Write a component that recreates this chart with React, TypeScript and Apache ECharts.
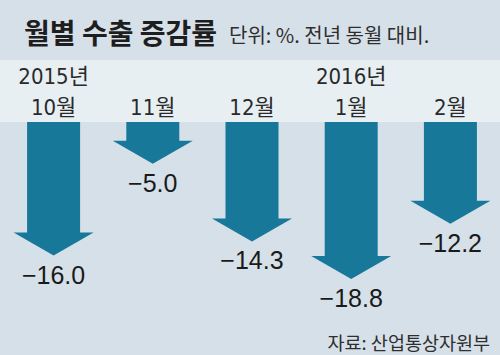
import React, { useEffect, useRef } from "react";
import * as echarts from "echarts";

const months = ["10월", "11월", "12월", "1월", "2월"];
const years = ["2015년", "", "", "2016년", ""];
const values = [-16.0, -5.0, -14.3, -18.8, -12.2];

const titleText = "월별 수출 증감률";
const unitText = "단위: %. 전년 동월 대비.";
const sourceText = "자료: 산업통상자원부";

const ARROW = "#17789a";
const KR = '"Noto Sans CJK KR", sans-serif';
const NUM = '"Liberation Sans", Arial, sans-serif';
const NARROW = '"Liberation Sans Narrow", "DejaVu Sans Condensed", "Noto Sans CJK KR", sans-serif';

const fmt = (v: number) => (v < 0 ? "\u2212" : "") + Math.abs(v).toFixed(1);

export default function App() {
  const ref = useRef<HTMLDivElement>(null);
  useEffect(() => {
    if (!ref.current) return;
    const chart = echarts.init(ref.current, undefined, { renderer: "svg" });
    chart.setOption({
      animation: false,
      backgroundColor: "#d6e0e8",
      grid: { left: 4, width: 498, top: 122, height: 167 },
      xAxis: {
        type: "category",
        data: months,
        position: "top",
        axisLine: { show: false },
        axisTick: { show: false },
        splitLine: { show: false },
        axisLabel: {
          margin: -1,
          fontSize: 22,
          lineHeight: 31,
          color: "#2a2a2a",
          fontFamily: NARROW,
          formatter: (val: string, idx: number) =>
            years[idx] ? years[idx] + "\n" + val : val,
        },
      },
      yAxis: { type: "value", min: -20, max: 0, show: false },
      graphic: [
        {
          type: "rect",
          z: -10,
          shape: { x: 0, y: 60, width: 500, height: 62 },
          style: { fill: "#e8eff3" },
        },
        {
          type: "text",
          x: 24,
          y: 32,
          style: {
            text: titleText,
            fill: "#1e1e1e",
            font: `bold 28px ${KR}`,
            verticalAlign: "middle",
          },
        },
        {
          type: "text",
          x: 229,
          y: 34,
          style: {
            text: unitText,
            fill: "#2e2e2e",
            font: `20px ${KR}`,
            verticalAlign: "middle",
          },
        },
        {
          type: "text",
          x: 490,
          y: 342,
          style: {
            text: sourceText,
            fill: "#2e2e2e",
            font: `18.5px ${KR}`,
            align: "right",
            verticalAlign: "middle",
          },
        },
      ],
      series: [
        {
          type: "custom",
          data: values.map((v, i) => [i, v]),
          renderItem: (params: any, api: any) => {
            const idx = api.value(0);
            const v = api.value(1);
            const base = api.coord([idx, 0]);
            const tip = api.coord([idx, v]);
            const cx = base[0];
            const sh = 26.5;
            const hh = 40;
            const headH = 23;
            const y0 = base[1];
            const yt = tip[1];
            const yh = yt - headH;
            return {
              type: "group",
              children: [
                {
                  type: "polygon",
                  shape: {
                    points: [
                      [cx - sh, y0],
                      [cx + sh, y0],
                      [cx + sh, yh],
                      [cx + hh, yh],
                      [cx, yt],
                      [cx - hh, yh],
                      [cx - sh, yh],
                    ],
                  },
                  style: { fill: ARROW },
                },
                {
                  type: "text",
                  style: {
                    text: fmt(v),
                    x: cx,
                    y: yt + 19,
                    align: "center",
                    verticalAlign: "middle",
                    fill: "#1a1a1a",
                    font: `25px ${NUM}`,
                  },
                },
              ],
            };
          },
        },
      ],
    });
    return () => chart.dispose();
  }, []);
  return (
    <div
      ref={ref}
      style={{ position: "fixed", left: 0, top: 0, width: 500, height: 355 }}
    />
  );
}
